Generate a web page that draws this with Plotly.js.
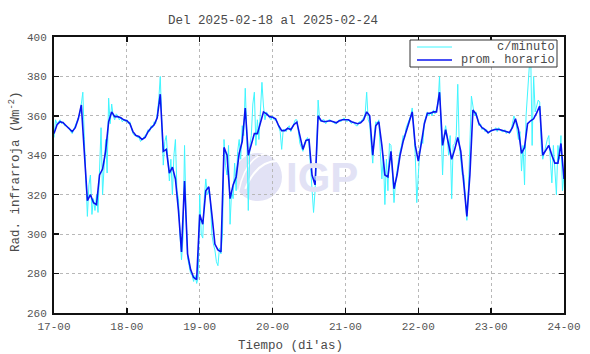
<!DOCTYPE html>
<html>
<head>
<meta charset="utf-8">
<script src="https://cdn.plot.ly/plotly-3.0.1.min.js"></script>
<style>html,body{margin:0;padding:0;background:#fff;}#chart{width:590px;height:354px;}</style>
</head>
<body>
<div id="chart"></div>
<script>
// Day tick labels
const tickVals = [17, 18, 19, 20, 21, 22, 23, 24];
const tickText = ["17-00", "18-00", "19-00", "20-00", "21-00", "22-00", "23-00", "24-00"];
const yTicks = [260, 280, 300, 320, 340, 360, 380, 400];
const seriesNames = ["c/minuto", "prom. horario"];

// Hourly average (prom. horario), from 17-00 to 24-00, one value per hour
const promHorario = [
  // day 17
  351, 355.5, 357, 356.5, 355, 353.7, 352, 354, 358.5, 365.5, 343, 317,
  320, 316, 315, 330, 333, 342, 357, 362, 359.6, 359.6, 359, 358,
  // day 18
  357.5, 356, 352, 350, 349.5, 348, 349, 352, 354, 355.5, 359, 371,
  342, 343, 331, 334, 328, 312, 291, 327, 290, 282, 278, 277,
  // day 19
  310, 305, 322, 324, 310, 295, 292, 291, 344, 340, 318, 325,
  329, 341, 347, 364, 340, 345, 351, 351, 356, 362, 361, 359.6,
  // day 20
  359.3, 358.5, 355, 352.5, 352.5, 353.7, 353, 355.5, 356.8, 350, 343, 347.5,
  348, 330, 325, 360, 357.5, 357, 357.3, 357.5, 357, 356.5, 357.5, 358,
  // day 21
  358, 358, 357, 356.5, 356, 356.5, 358, 362, 360, 340, 355, 357,
  345, 330, 329, 342, 323, 330, 340, 347, 352, 357, 362, 345,
  // day 22
  337, 346, 356, 361.3, 361.3, 362, 362, 372, 345, 353, 346, 338,
  343, 349, 342, 327, 309, 330, 363, 361, 356, 354, 353, 351.5,
  // day 23
  352.5, 353, 353.2, 353, 352.5, 352, 351.5, 354, 358.5, 353, 341, 344,
  356, 357.5, 358.5, 361.5, 365, 340, 342.5, 345, 340, 336, 336, 346,
  // 24-00
  328
];

const cMinuto = [
  // day 17
  349, 358, 356, 357, 358, 356, 357, 355, 355, 354, 354, 352,
  351, 353, 355, 356, 359, 361, 366, 372, 348, 331, 309, 325,
  330, 310, 318, 312, 320, 311, 329, 354, 320, 338, 348, 331,
  369, 356, 366, 360, 358, 361, 360, 358, 359, 357, 358, 357,
  // day 18
  358, 356, 357, 354, 351, 350, 350, 349, 349, 347, 348, 349,
  350, 351, 353, 352, 355, 354, 357, 356, 361, 368, 380, 360,
  335, 347, 350, 338, 327, 338, 320, 340, 348, 322, 318, 300,
  287, 298, 345, 310, 288, 284, 280, 279, 276, 279, 275, 278,
  // day 19
  320, 300, 298, 318, 328, 320, 322, 318, 300, 295, 292, 286,
  284, 293, 290, 300, 348, 335, 330, 345, 305, 322, 318, 336,
  322, 342, 348, 338, 355, 350, 374, 352, 312, 345, 350, 366,
  372, 345, 358, 348, 365, 377, 365, 358, 362, 360, 359, 358,
  // day 20
  360, 358, 358, 357, 354, 352, 343, 353, 353, 352, 354, 355,
  352, 354, 356, 358, 358, 352, 346, 344, 342, 346, 348, 349,
  346, 335, 322, 311, 322, 340, 368, 358, 357, 358, 358, 356,
  357, 358, 358, 357, 357, 356, 356, 357, 358, 357, 358, 359,
  // day 21
  358, 357, 358, 357, 356, 357, 356, 355, 355, 357, 357, 358,
  359, 361, 372, 358, 356, 345, 336, 350, 357, 356, 358, 342,
  328, 340, 315, 338, 322, 346, 345, 330, 316, 326, 334, 338,
  342, 345, 350, 349, 354, 356, 358, 360, 364, 355, 340, 316,
  // day 22
  330, 342, 348, 346, 357, 360, 362, 360, 362, 360, 363, 361,
  363, 366, 380, 360, 330, 350, 355, 350, 340, 350, 318, 345,
  346, 350, 376, 345, 335, 330, 330, 318, 307, 322, 345, 370,
  365, 360, 362, 358, 355, 356, 353, 354, 352, 353, 351, 352,
  // day 23
  352, 353, 353, 354, 352, 354, 353, 352, 352, 353, 351, 352,
  351, 352, 356, 360, 358, 352, 348, 352, 332, 345, 325, 360,
  372, 385, 395, 345, 380, 362, 365, 368, 367, 345, 338, 342,
  344, 348, 350, 338, 326, 345, 334, 320, 345, 338, 350, 322,
  // 24-00
  330
];

const xHour = promHorario.map((_, i) => 17 + i / 24);
const xHalf = cMinuto.map((_, i) => 17 + i / 48);

const FONT = "Liberation Mono, Courier New, monospace";
const CYAN = "#3ff6ff";
const BLUE = "#0a14f0";
const TXT = "#4a4a4a";

const traces = [
  {
    x: xHalf, y: cMinuto, type: "scatter", mode: "lines",
    name: seriesNames[0], showlegend: false,
    line: { color: CYAN, width: 1 }
  },
  {
    x: xHour, y: promHorario, type: "scatter", mode: "lines",
    name: seriesNames[1], showlegend: false,
    line: { color: BLUE, width: 1.6 }
  }
];

const axisCommon = {
  showline: true, linecolor: "#111", linewidth: 2, mirror: "ticks",
  ticks: "inside", ticklen: 5, tickwidth: 1.5, tickcolor: "#111",
  showgrid: true, gridcolor: "#b8b8b8", griddash: "dot", gridwidth: 1,
  zeroline: false,
  tickfont: { family: FONT, size: 11, color: "#555" }
};

// paper-coordinate helpers for the hand-built legend box and watermark
const px = v => (v - 54) / 510;
const py = v => (313 - v) / 276;

const layout = {
  width: 590, height: 354,
  margin: { l: 54, r: 26, t: 37, b: 41, pad: 0 },
  paper_bgcolor: "#fff", plot_bgcolor: "#fff",
  showlegend: false,
  title: {
    text: "Del 2025-02-18 al 2025-02-24",
    font: { family: FONT, size: 12.5, color: TXT },
    x: 273 / 590, xref: "container", xanchor: "center",
    y: 1 - 20 / 354, yref: "container", yanchor: "middle"
  },
  xaxis: Object.assign({}, axisCommon, {
    range: [17, 24], tickmode: "array", tickvals: tickVals, ticktext: tickText,
    ticklabelstandoff: 2
  }),
  yaxis: Object.assign({}, axisCommon, {
    range: [260, 400], tickmode: "array", tickvals: yTicks,
    ticktext: yTicks.map(String), ticklabelstandoff: 3
  }),
  shapes: [
    {
      type: "circle", xref: "paper", yref: "paper", layer: "below",
      x0: px(234), x1: px(282), y0: py(201), y1: py(153),
      fillcolor: "#e2e2f5", line: { width: 0 }
    },
    {
      type: "path", xref: "paper", yref: "paper", layer: "below",
      path: "M 0.375 0.45 Q 0.40 0.56 0.445 0.55",
      line: { color: "#ffffff", width: 2 }
    },
    {
      type: "path", xref: "paper", yref: "paper", layer: "below",
      path: "M 0.362 0.44 Q 0.38 0.60 0.44 0.575",
      line: { color: "#ffffff", width: 1.5 }
    },
    // legend box
    {
      type: "rect", xref: "paper", yref: "paper", layer: "above",
      x0: px(410), x1: px(557), y0: py(67), y1: py(40),
      fillcolor: "#ffffff", line: { color: "#333", width: 1 }
    },
    {
      type: "line", xref: "paper", yref: "paper", layer: "above",
      x0: px(417), x1: px(452), y0: py(47), y1: py(47),
      line: { color: CYAN, width: 1 }
    },
    {
      type: "line", xref: "paper", yref: "paper", layer: "above",
      x0: px(417), x1: px(452), y0: py(60), y1: py(60),
      line: { color: BLUE, width: 1.6 }
    }
  ],
  annotations: [
    {
      text: "IGP", xref: "paper", yref: "paper",
      x: px(322), y: py(177), xanchor: "center", yanchor: "middle",
      showarrow: false,
      font: { family: "Liberation Sans, Arial, sans-serif", size: 42, color: "#e2e2f5", weight: "bold" }
    },
    {
      text: seriesNames[0], xref: "paper", yref: "paper",
      x: px(556), y: py(46.5), xanchor: "right", yanchor: "middle",
      showarrow: false, borderpad: 0, font: { family: FONT, size: 12, color: TXT }
    },
    {
      text: seriesNames[1], xref: "paper", yref: "paper",
      x: px(556), y: py(60), xanchor: "right", yanchor: "middle",
      showarrow: false, borderpad: 0, font: { family: FONT, size: 12, color: TXT }
    },
    {
      text: "Tiempo (di'as)", xref: "paper", yref: "paper",
      x: px(290), y: py(346), xanchor: "center", yanchor: "middle",
      showarrow: false, font: { family: FONT, size: 12.5, color: TXT }
    },
    {
      text: "Rad. infrarroja (Wm<sup>-2</sup>)", xref: "paper", yref: "paper",
      x: px(15), y: py(172), xanchor: "center", yanchor: "middle",
      textangle: -90, showarrow: false, font: { family: FONT, size: 12.5, color: TXT }
    }
  ]
};

Plotly.newPlot("chart", traces, layout, { displayModeBar: false, staticPlot: true });
</script>
</body>
</html>
